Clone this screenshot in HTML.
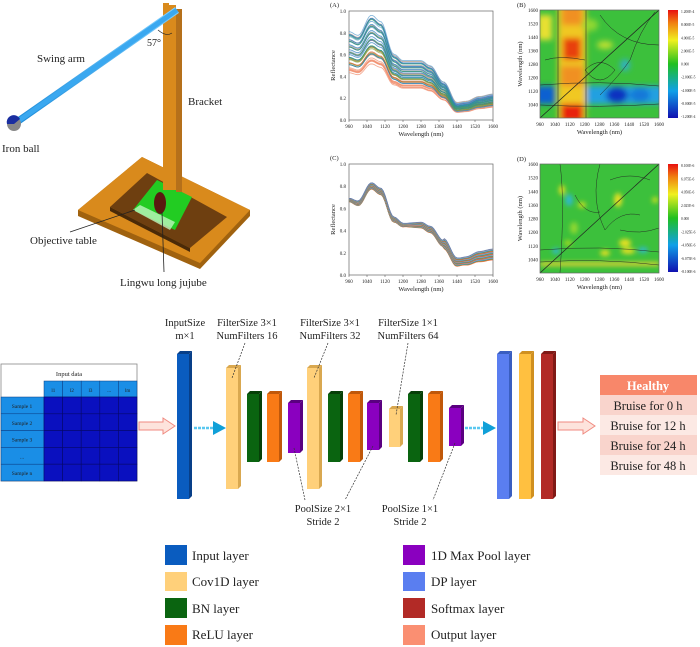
<!DOCTYPE html>
<html><head><meta charset="utf-8"><style>
html,body{margin:0;padding:0;background:#fff}
svg{display:block}
text{font-family:"Liberation Serif",serif;fill:#222}
</style></head><body>
<svg id="s" width="700" height="647" viewBox="0 0 700 647" xmlns="http://www.w3.org/2000/svg">
<defs>
<filter id="bl" x="-20%" y="-20%" width="140%" height="140%"><feGaussianBlur stdDeviation="3"/></filter>
<filter id="bl2" x="-50%" y="-50%" width="200%" height="200%"><feGaussianBlur stdDeviation="2.5"/></filter>
<linearGradient id="cb1" x1="0" y1="1" x2="0" y2="0"><stop offset="0" stop-color="#1010b0"/><stop offset="0.25" stop-color="#10a0e8"/><stop offset="0.5" stop-color="#20c020"/><stop offset="0.72" stop-color="#f0f020"/><stop offset="0.88" stop-color="#f08010"/><stop offset="1" stop-color="#e81010"/></linearGradient>
<linearGradient id="arm" x1="0" y1="0" x2="0" y2="1"><stop offset="0" stop-color="#7fd0ff"/><stop offset="1" stop-color="#1a8ad8"/></linearGradient>
<clipPath id="cB"><rect x="540" y="10" width="119" height="108"/></clipPath>
<clipPath id="cD"><rect x="540" y="164" width="119" height="109"/></clipPath>
</defs>

<!-- Apparatus -->
<polygon points="142,157 250,210 250,216 200,269 78,216 78,210" fill="#a0620f"/>
<polygon points="142,157 250,210 200,263 78,210" fill="#d98a1c"/>
<polygon points="147,173 227,217 190,248 110,207" fill="#6e3f10"/>
<polygon points="110,207 190,248 190,252 110,211" fill="#4a2a08"/>
<polygon points="157,180 192,197 175,230 133,210" fill="#22cc22"/>
<polygon points="140,205 175,222 170,230 133,210" fill="#bff5bf" opacity="0.8"/>
<rect x="163" y="5" width="13" height="185" fill="#d98a1c"/>
<rect x="176" y="9" width="6" height="183" fill="#b5701a"/>
<rect x="163" y="3" width="6" height="8" fill="#d98a1c"/>
<line x1="14" y1="124" x2="177" y2="10" stroke="url(#arm)" stroke-width="7"/>
<line x1="14" y1="124" x2="177" y2="10" stroke="#3aa8f0" stroke-width="5"/>
<circle cx="14" cy="124" r="7" fill="#888"/>
<path d="M7,124 A7,7 0 0 1 20,119 L14,124 Z" fill="#1a2ea0"/>
<ellipse cx="160" cy="203" rx="6" ry="11" fill="#5a1a10"/>
<line x1="162" y1="212" x2="164" y2="272" stroke="#222" stroke-width="0.8"/>
<line x1="70" y1="232" x2="135" y2="210" stroke="#222" stroke-width="0.8"/>
<path d="M158,30 Q166,37 172,33" fill="none" stroke="#222" stroke-width="0.7"/>
<text x="37" y="62" font-size="11">Swing arm</text>
<text x="147" y="46" font-size="10">57°</text>
<text x="188" y="105" font-size="11">Bracket</text>
<text x="2" y="152" font-size="11">Iron ball</text>
<text x="30" y="244" font-size="11">Objective table</text>
<text x="120" y="286" font-size="11">Lingwu long jujube</text>

<g id="pA"></g>
<g id="pC"></g>

<!-- B heatmap -->
<g clip-path="url(#cB)">
<rect x="540" y="10" width="119" height="108" fill="#3cc03c"/>
<g filter="url(#bl)">
<rect x="558" y="5" width="28" height="118" fill="#f0c820"/>
<rect x="562" y="5" width="20" height="20" fill="#f09020"/>
<rect x="563" y="38" width="18" height="22" fill="#e84010"/>
<rect x="561" y="66" width="22" height="20" fill="#f09020"/>
<rect x="561" y="104" width="22" height="18" fill="#e82010"/>
<rect x="538" y="15" width="14" height="25" fill="#e8e030"/>
<rect x="535" y="86" width="20" height="18" fill="#1060d0"/>
<rect x="586" y="86" width="80" height="18" fill="#20a0e0"/>
<ellipse cx="617" cy="95" rx="11" ry="8" fill="#1030c0"/>
<ellipse cx="640" cy="95" rx="10" ry="7" fill="#1878d8"/>
<ellipse cx="605" cy="45" rx="8" ry="4" fill="#c0e030"/>
<ellipse cx="590" cy="25" rx="8" ry="6" fill="#90d830"/>
<ellipse cx="625" cy="65" rx="5" ry="6" fill="#30b0c0"/>
</g>
<line x1="540" y1="118" x2="659" y2="10" stroke="#222" stroke-width="0.7"/>
<path d="M600,15 Q620,45 659,45 M600,95 Q620,75 630,60 Q640,30 655,12 M545,60 Q560,55 585,60 M540,85 Q600,80 659,86 M540,105 Q600,108 659,104 M585,70 Q600,90 615,70 Q600,55 585,70 M558,10 V118 M586,10 V118" fill="none" stroke="#222" stroke-width="0.5"/>
</g>
<rect x="540" y="10" width="119" height="108" fill="none" stroke="#666" stroke-width="0.7"/>
<rect x="668" y="10" width="10" height="108" fill="url(#cb1)"/>

<!-- D heatmap -->
<g clip-path="url(#cD)">
<rect x="540" y="164" width="119" height="109" fill="#3cc03c"/>
<g filter="url(#bl2)">
<ellipse cx="562" cy="190" rx="3" ry="5" fill="#e8e020"/>
<ellipse cx="569" cy="200" rx="4" ry="6" fill="#30b8c8"/>
<ellipse cx="582" cy="205" rx="4" ry="3" fill="#d0e020"/>
<ellipse cx="618" cy="200" rx="4" ry="7" fill="#e8e020"/>
<ellipse cx="625" cy="243" rx="6" ry="4" fill="#e8e020"/>
<ellipse cx="628" cy="251" rx="7" ry="3" fill="#e8e020"/>
<ellipse cx="605" cy="253" rx="5" ry="3" fill="#e8e020"/>
<ellipse cx="643" cy="250" rx="5" ry="3" fill="#30b8c8"/>
<ellipse cx="556" cy="251" rx="4" ry="3" fill="#30b8c8"/>
<ellipse cx="568" cy="243" rx="4" ry="3" fill="#a0d820"/>
<ellipse cx="655" cy="200" rx="3" ry="3" fill="#d0e020"/>
<rect x="540" y="262" width="119" height="4" fill="#e0d030"/>
<ellipse cx="574" cy="228" rx="4" ry="6" fill="#90d830"/>
</g>
<line x1="540" y1="273" x2="659" y2="164" stroke="#222" stroke-width="0.7"/>
<path d="M540,250 Q600,245 659,252 M540,262 Q600,258 659,265 M560,164 Q565,200 560,273 M600,164 Q590,200 605,230 Q620,210 640,215 M575,195 Q585,215 600,212 M620,230 Q640,235 659,228 M610,180 Q630,172 650,180" fill="none" stroke="#222" stroke-width="0.45"/>
</g>
<rect x="540" y="164" width="119" height="109" fill="none" stroke="#666" stroke-width="0.7"/>
<rect x="668" y="164" width="10" height="108" fill="url(#cb1)"/>
<g id="hmlab"></g>

<g id="tbl"></g>
<g id="net"></g>
<g font-size="10.5" text-anchor="middle">
<text x="185" y="326">InputSize</text><text x="185" y="339">m×1</text>
<text x="247" y="326">FilterSize 3×1</text><text x="247" y="339">NumFilters 16</text>
<text x="330" y="326">FilterSize 3×1</text><text x="330" y="339">NumFilters 32</text>
<text x="408" y="326">FilterSize 1×1</text><text x="408" y="339">NumFilters 64</text>
<text x="323" y="512">PoolSize 2×1</text><text x="323" y="525">Stride 2</text>
<text x="410" y="512">PoolSize 1×1</text><text x="410" y="525">Stride 2</text>
</g>
<g stroke="#333" stroke-width="0.7" stroke-dasharray="2,1.2" fill="none">
<line x1="245" y1="343" x2="232" y2="378"/>
<line x1="328" y1="343" x2="314" y2="378"/>
<line x1="408" y1="343" x2="396" y2="415"/>
<line x1="294" y1="448" x2="305" y2="500"/>
<line x1="373" y1="446" x2="345" y2="500"/>
<line x1="455" y1="443" x2="433" y2="500"/>
</g>

<rect x="600" y="375" width="97" height="20" fill="#f8876a"/>
<text x="648" y="390" font-size="12.5" text-anchor="middle" font-weight="bold" style="fill:#fff">Healthy</text>
<rect x="600" y="395" width="97" height="20" fill="#f9d4cc"/>
<rect x="600" y="415" width="97" height="20" fill="#fce9e4"/>
<rect x="600" y="435" width="97" height="20" fill="#f9d4cc"/>
<rect x="600" y="455" width="97" height="20" fill="#fce9e4"/>
<g font-size="12.5" text-anchor="middle">
<text x="648" y="410">Bruise for 0 h</text>
<text x="648" y="430">Bruise for 12 h</text>
<text x="648" y="450">Bruise for 24 h</text>
<text x="648" y="470">Bruise for 48 h</text>
</g>

<g font-size="13">
<rect x="165" y="545" width="22" height="20" fill="#0a5cbf"/><text x="192" y="560">Input layer</text>
<rect x="165" y="572" width="22" height="19" fill="#ffd07a"/><text x="192" y="586">Cov1D layer</text>
<rect x="165" y="598" width="22" height="20" fill="#0a6410"/><text x="192" y="613">BN layer</text>
<rect x="165" y="625" width="22" height="20" fill="#f97a16"/><text x="192" y="639">ReLU layer</text>
<rect x="403" y="545" width="22" height="20" fill="#8a00bf"/><text x="431" y="560">1D Max Pool layer</text>
<rect x="403" y="572" width="22" height="19" fill="#5a7ef0"/><text x="431" y="586">DP layer</text>
<rect x="403" y="598" width="22" height="20" fill="#b22a26"/><text x="431" y="613">Softmax layer</text>
<rect x="403" y="625" width="22" height="20" fill="#fa8f72"/><text x="431" y="639">Output layer</text>
</g>
</svg>
<script>
var S='http://www.w3.org/2000/svg',svg=document.getElementById('s');
function el(p,t,a,tx){var e=document.createElementNS(S,t);for(var k in a)e.setAttribute(k,a[k]);if(tx!=null)e.textContent=tx;p.appendChild(e);return e;}
var pts=[[960,.70],[1000,.67],[1060,.83],[1100,.78],[1160,.52],[1200,.47],[1280,.47],[1320,.43],[1380,.30],[1440,.13],[1480,.14],[1540,.18],[1600,.20]];
function f(x){for(var i=0;i<pts.length-1;i++){var a=pts[i],b=pts[i+1];if(x<=b[0]){var t=(x-a[0])/(b[0]-a[0]);t=(1-Math.cos(Math.PI*t))/2;return a[1]+(b[1]-a[1])*t;}}return pts[pts.length-1][1];}
function panel(g,L,T,W,H,lab,kind){
 var G=document.getElementById(g);
 el(G,'rect',{x:L,y:T,width:W,height:H,fill:'#fff',stroke:'#666','stroke-width':0.7});
 var n=kind?40:45;
 var cols=['#e8603a','#f0803c','#d06030','#8aa040','#30a070','#3080c0','#60a0d0','#a0b8e0','#c0a080','#5070b0'];
 for(var k=0;k<n;k++){var d='',sc;
  sc=kind==0?0.62+0.55*k/n:1;
  for(var x=960;x<=1600;x+=8){var y=f(x)*sc;
   if(kind==0){y=y+0.02*Math.sin(k)}else{var w=(k/n-0.5);y=f(x)*0.98+w*0.03*(1+Math.abs(Math.sin((x-960)/80)))-0.01;if(x>1380)y+=w*0.04;}
   var px=L+(x-960)/640*W,py=T+H-(y*H);d+=(d?'L':'M')+px.toFixed(1)+','+py.toFixed(1);}
  var c=cols[k%10];
  if(kind==0){c=k<n*0.2?'#f09070':(k<n*0.45?cols[2+k%4]:cols[4+k%6]);}
  el(G,'path',{d:d,fill:'none',stroke:c,'stroke-width':0.9,opacity:0.75});}
 [960,1040,1120,1200,1280,1360,1440,1520,1600].forEach(function(v){var px=L+(v-960)/640*W;el(G,'line',{x1:px,y1:T+H,x2:px,y2:T+H+2,stroke:'#444','stroke-width':0.5});el(G,'text',{x:px,y:T+H+8,'font-size':5,'text-anchor':'middle'},v);});
 for(var i=0;i<=5;i++){var py=T+H-i*H/5;el(G,'text',{x:L-3,y:py+2,'font-size':5,'text-anchor':'end'},(i/5).toFixed(1));}
 el(G,'text',{x:L+W/2,y:T+H+16,'font-size':6.5,'text-anchor':'middle'},'Wavelength (nm)');
 el(G,'text',{x:L-14,y:T+H/2,'font-size':6.5,'text-anchor':'middle',transform:'rotate(-90 '+(L-14)+' '+(T+H/2)+')'},'Reflectance');
 el(G,'text',{x:L-19,y:T-4,'font-size':6.5},lab);
}
panel('pA',349,11,144,109,'(A)',0);
panel('pC',349,164,144,111,'(C)',1);
var hm=document.getElementById('hmlab');
[[540,10,118,'(B)',['1.200E-4','8.000E-5','4.000E-5','2.000E-5','0.000','-2.000E-5','-4.000E-5','-8.000E-5','-1.200E-4']],[540,164,273,'(D)',['8.100E-6','6.075E-6','4.050E-6','2.025E-6','0.000','-2.025E-6','-4.050E-6','-6.075E-6','-8.100E-6']]].forEach(function(p){
 var L=p[0],T=p[1],B=p[2],H=B-T,W=119;
 el(hm,'text',{x:L-23,y:T-3,'font-size':6.5},p[3]);
 [960,1040,1120,1200,1280,1360,1440,1520,1600].forEach(function(v,i){var px=L+i*W/8;el(hm,'text',{x:px,y:B+8,'font-size':5,'text-anchor':'middle'},v);if(i>0)el(hm,'text',{x:L-2,y:B-i*H/8+2,'font-size':5,'text-anchor':'end'},v);});
 el(hm,'text',{x:L+W/2,y:B+16,'font-size':6.5,'text-anchor':'middle'},'Wavelength (nm)');
 el(hm,'text',{x:L-18,y:T+H/2,'font-size':6.5,'text-anchor':'middle',transform:'rotate(-90 '+(L-18)+' '+(T+H/2)+')'},'Wavelength (nm)');
 p[4].forEach(function(s,i){el(hm,'text',{x:681,y:T+3+i*(H-3)/8,'font-size':3.6},s);});
});
var t=document.getElementById('tbl');
el(t,'rect',{x:1,y:364,width:136,height:117,fill:'#fff',stroke:'#888','stroke-width':0.8});
el(t,'text',{x:69,y:376,'font-size':6.5,'text-anchor':'middle'},'Input data');
var cw=(137-44)/5,hd=['l1','l2','l3','...','lm'];
for(var c=0;c<5;c++){el(t,'rect',{x:44+c*cw,y:381,width:cw,height:16,fill:'#1a8ee6',stroke:'#0a3a80','stroke-width':0.5});el(t,'text',{x:44+c*cw+cw/2,y:392,'font-size':5,'text-anchor':'middle'},hd[c]);}
var rn=['Sample 1','Sample 2','Sample 3','...','Sample n'];
for(var r=0;r<5;r++){var y=397+r*16.8;el(t,'rect',{x:1,y:y,width:43,height:16.8,fill:'#1a8ee6',stroke:'#0a3a80','stroke-width':0.5});el(t,'text',{x:22,y:y+11,'font-size':5.5,'text-anchor':'middle'},rn[r]);
 for(var c=0;c<5;c++)el(t,'rect',{x:44+c*cw,y:y,width:cw,height:16.8,fill:'#0a10bf',stroke:'#05086a','stroke-width':0.6});}
var n=document.getElementById('net');
function arrow(x1,x2,y){el(n,'path',{d:'M'+x1+','+(y-4)+'H'+(x2-12)+'V'+(y-8)+'L'+x2+','+y+'L'+(x2-12)+','+(y+8)+'V'+(y+4)+'H'+x1+'Z',fill:'#fde3dc',stroke:'#f08a80','stroke-width':1});}
arrow(139,175,426);arrow(558,595,426);
function dash(x1,x2,y){el(n,'line',{x1:x1,y1:y,x2:x2-12,y2:y,stroke:'#5ac8f0','stroke-width':2.5,'stroke-dasharray':'3,1'});el(n,'polygon',{points:(x2-13)+','+(y-7)+' '+x2+','+y+' '+(x2-13)+','+(y+7),fill:'#10a0d8'});}
dash(194,226,428);dash(465,496,428);
function bar(x,y1,y2,w,col,side){el(n,'polygon',{points:x+','+y1+' '+(x+3)+','+(y1-3)+' '+(x+w+3)+','+(y1-3)+' '+(x+w)+','+y1,fill:side});el(n,'polygon',{points:(x+w)+','+y1+' '+(x+w+3)+','+(y1-3)+' '+(x+w+3)+','+(y2-3)+' '+(x+w)+','+y2,fill:side});el(n,'rect',{x:x,y:y1,width:w,height:y2-y1,fill:col});}
var Y='#ffd07a',Ys='#d9a850',Gr='#0a6410',Gs='#064008',O='#f97a16',Os='#c0580a',P='#8a00bf',Ps='#5a0080';
bar(177,354,499,12,'#0a5cbf','#083f88');
bar(226,368,489,12,Y,Ys);bar(247,394,462,12,Gr,Gs);bar(267,394,462,12,O,Os);bar(288,403,453,12,P,Ps);
bar(307,368,489,12,Y,Ys);bar(328,394,462,12,Gr,Gs);bar(348,394,462,12,O,Os);bar(367,403,450,12,P,Ps);
bar(389,409,447,11,Y,Ys);bar(408,394,462,12,Gr,Gs);bar(428,394,462,12,O,Os);bar(449,408,446,12,P,Ps);
bar(497,354,499,12,'#5a7ef0','#3a5ec0');bar(519,354,499,12,'#ffc040','#d09020');bar(541,354,499,12,'#b22a26','#801a16');
</script>
</body></html>
